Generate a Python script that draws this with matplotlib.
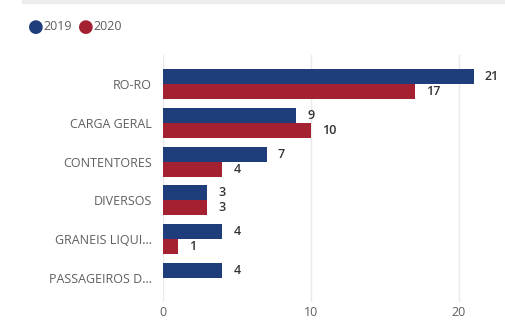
import matplotlib.pyplot as plt
import numpy as np

categories = ["RO-RO", "CARGA GERAL", "CONTENTORES", "DIVERSOS",
              "GRANEIS LIQUI...", "PASSAGEIROS D..."]
series_names = ["2019", "2020"]
values_2019 = [21, 9, 7, 3, 4, 4]
values_2020 = [17, 10, 4, 3, 1, None]
xticks = [0, 10, 20]

blue = "#1F3D7A"
red = "#A32130"
label_gray = "#605E5C"
value_dark = "#333333"

plt.rcParams["font.family"] = ["Open Sans", "DejaVu Sans"]

fig = plt.figure(figsize=(5.06, 3.22), dpi=100)
W, H = 506, 322

# thin header strip along the top
fig.patches.append(plt.Rectangle((22 / W, 1 - 3 / H), 1, 3 / H,
                                 transform=fig.transFigure,
                                 color="#EDEDED", zorder=0))

ax = fig.add_axes([163 / W, 1 - 302 / H, (499 - 163) / W, (302 - 55) / H])

y = np.arange(len(categories))
h = 0.39
for i, (v19, v20) in enumerate(zip(values_2019, values_2020)):
    if v19 is not None:
        ax.barh(y[i] - h / 2, v19, height=h, color=blue, zorder=2)
        ax.text(v19 + 0.75, y[i] - h / 2, str(v19), va="center", ha="left",
                fontsize=9, color=value_dark, fontweight="semibold")
    if v20 is not None:
        ax.barh(y[i] + h / 2, v20, height=h, color=red, zorder=2)
        ax.text(v20 + 0.75, y[i] + h / 2, str(v20), va="center", ha="left",
                fontsize=9, color=value_dark, fontweight="semibold")

ax.set_xlim(0, 22.7)
ax.set_ylim(5.63, -0.76)
ax.set_yticks(y)
ax.set_yticklabels(categories, fontsize=9, color=label_gray)
ax.set_xticks(xticks)
ax.set_xticklabels([str(t) for t in xticks], fontsize=9, color=label_gray)
ax.tick_params(axis="x", length=0, pad=3)
ax.tick_params(axis="y", length=0, pad=8)
ax.grid(axis="x", color="#EAEAEA", linewidth=1, zorder=0)
for s in ax.spines.values():
    s.set_visible(False)

# legend drawn as dots with labels
fig.text(36 / W, 1 - 27 / H, "\u25CF", color=blue, fontsize=13,
         va="center", ha="center")
fig.text(43 / W, 1 - 27 / H, series_names[0], color=label_gray, fontsize=9,
         va="center", ha="left")
fig.text(86 / W, 1 - 27 / H, "\u25CF", color=red, fontsize=13,
         va="center", ha="center")
fig.text(93 / W, 1 - 27 / H, series_names[1], color=label_gray, fontsize=9,
         va="center", ha="left")

fig.savefig("out.png", dpi=100)
